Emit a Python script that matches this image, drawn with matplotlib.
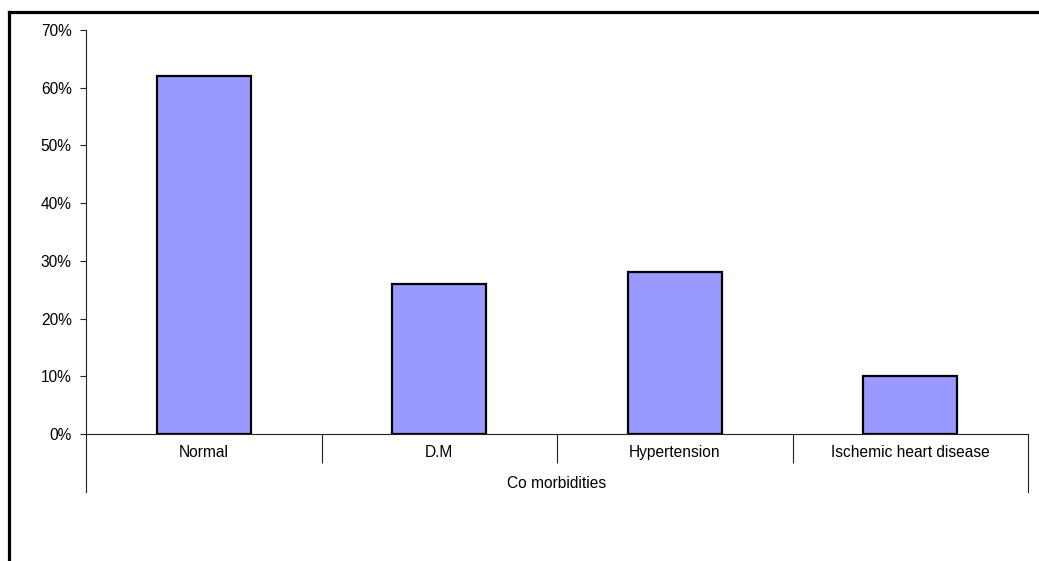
import matplotlib
matplotlib.use("Agg")
import matplotlib.pyplot as plt
from matplotlib.lines import Line2D
from matplotlib.ticker import FixedLocator, FixedFormatter
import matplotlib.transforms as mtransforms

plt.rcParams['font.family'] = ['Liberation Sans', 'DejaVu Sans']

categories = ["Normal", "D.M", "Hypertension", "Ischemic heart disease"]
values = [62, 26, 28, 10]
y_ticks = [0, 10, 20, 30, 40, 50, 60, 70]
y_tick_labels = ["0%", "10%", "20%", "30%", "40%", "50%", "60%", "70%"]
group_label = "Co morbidities"

FS = 11.2
W, H, DPI = 1039, 561, 100
fig = plt.figure(figsize=(W / DPI, H / DPI), dpi=DPI)
ax = fig.add_axes([86 / W, 1 - 434 / H, (1028 - 86) / W, (434 - 30) / H])

x = list(range(len(categories)))
ax.bar(x, values, width=0.4, color="#9999FF", edgecolor="black", linewidth=1.6, zorder=3)

ax.set_xlim(-0.5, len(categories) - 0.5)
ax.set_ylim(0, 70)

for s in ("top", "right"):
    ax.spines[s].set_visible(False)
for s in ("left", "bottom"):
    ax.spines[s].set_color("#222222")
    ax.spines[s].set_linewidth(0.8)

ax.set_yticks(y_ticks)
ax.set_yticklabels(y_tick_labels)
ax.tick_params(axis="y", length=4, width=0.8, pad=6.3, labelsize=FS, colors="#222222", labelcolor="black")

# Category boundary ticks (major) and centred labels (minor)
ax.xaxis.set_major_locator(FixedLocator([0.5, 1.5, 2.5]))
ax.xaxis.set_major_formatter(FixedFormatter(["", "", ""]))
ax.xaxis.set_minor_locator(FixedLocator(x))
ax.xaxis.set_minor_formatter(FixedFormatter(categories))
ax.tick_params(axis="x", which="major", length=21, width=0.8, colors="#222222")
ax.tick_params(axis="x", which="minor", length=0, pad=8, labelsize=FS, labelcolor="black")

# Outer group brackets reaching down to the group label row
trans = mtransforms.blended_transform_factory(ax.transData, ax.transAxes)
drop = 58 / 404
for xb in (-0.5, len(categories) - 0.5):
    ax.add_line(Line2D([xb, xb], [0, -drop], transform=trans, color="#222222",
                       linewidth=0.8, clip_on=False))
ax.text(sum(ax.get_xlim()) / 2, -49 / 404, group_label, transform=trans,
        ha="center", va="center", fontsize=FS)

# Heavy frame along the left and top of the figure
fig.add_artist(Line2D([9 / W, 9 / W], [0, 1 - 12 / H], transform=fig.transFigure,
                      color="black", linewidth=2.3, solid_capstyle="projecting"))
fig.add_artist(Line2D([9 / W, 1], [1 - 12 / H, 1 - 12 / H], transform=fig.transFigure,
                      color="black", linewidth=2.3, solid_capstyle="projecting"))

fig.savefig("out.png", dpi=DPI)
